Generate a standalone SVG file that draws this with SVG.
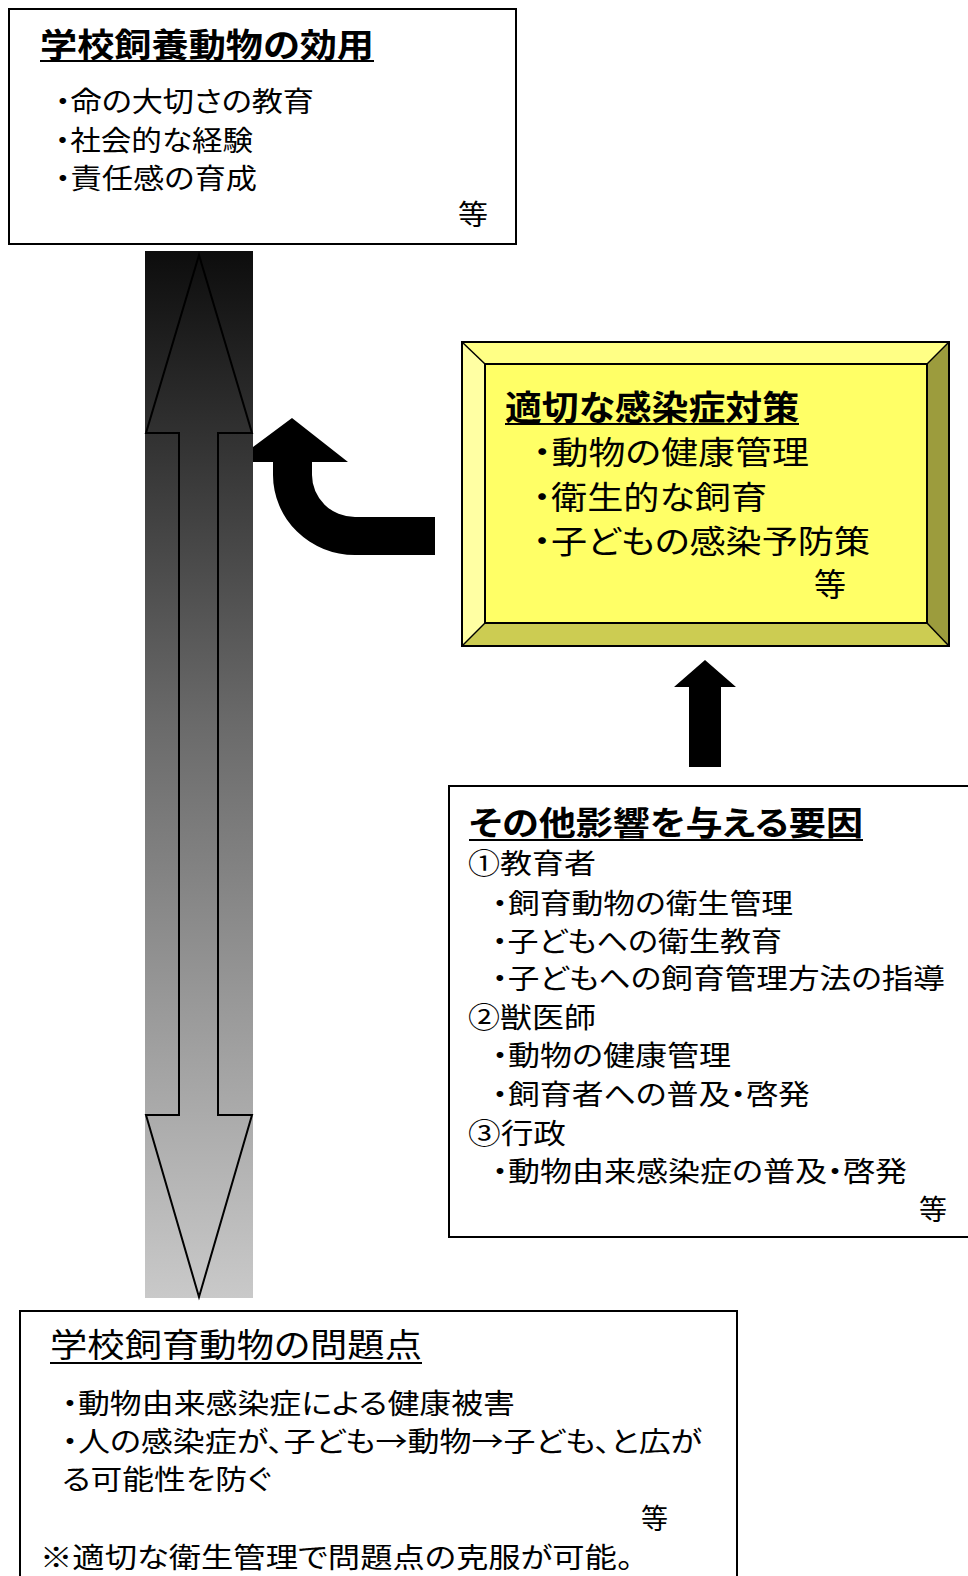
<svg xmlns="http://www.w3.org/2000/svg" width="968" height="1576" viewBox="0 0 968 1576">
<style>
text{font-family:"Noto Sans CJK JP","Noto Sans CJK SC",sans-serif;fill:#000;font-feature-settings:"palt";}
.t{font-size:33px;font-weight:bold;}
.tn{font-size:33px;}
.b{font-size:28px;}
.y{font-size:32px;}
.box{fill:#fff;stroke:#000;stroke-width:2;}
.ul{stroke:#000;stroke-width:2;}
</style>
<defs>
<linearGradient id="g" x1="0" y1="0" x2="0" y2="1">
<stop offset="0" stop-color="#0d0d0d"/>
<stop offset="0.45" stop-color="#6a6a6a"/>
<stop offset="1" stop-color="#c9c9c9"/>
</linearGradient>
</defs>
<g id="connectors">
<path d="M233 462 L292 418 L348 462 L312 462 L312 475 A43 42 0 0 0 355 517 L435 517 L435 555 L355 555 A82 80 0 0 1 273 475 L273 462 Z" fill="#000"/>
<rect x="145" y="251" width="108" height="1047" fill="url(#g)"/>
<path d="M199 255 L252 433 L218 433 L218 1115 L252 1115 L199 1297 L146 1115 L179 1115 L179 433 L146 433 Z" fill="none" stroke="#000" stroke-width="2" stroke-linejoin="miter"/>
<path d="M705 660 L736 687 L721 687 L721 767 L689 767 L689 687 L674 687 Z" fill="#000"/>
</g>
<g id="node-top">
<rect class="box" x="9" y="9" width="507" height="235"/>
<text class="t" x="40" y="57" textLength="334" lengthAdjust="spacingAndGlyphs">学校飼養動物の効用</text>
<line class="ul" x1="40" y1="61" x2="374" y2="61"/>
<text class="b" x="55" y="112" textLength="259" lengthAdjust="spacingAndGlyphs">・命の大切さの教育</text>
<text class="b" x="55" y="151" textLength="198" lengthAdjust="spacingAndGlyphs">・社会的な経験</text>
<text class="b" x="55" y="189" textLength="202" lengthAdjust="spacingAndGlyphs">・責任感の育成</text>
<text class="b" x="458" y="225" textLength="30" lengthAdjust="spacingAndGlyphs">等</text>
</g>
<g id="node-yellow">
<rect x="462" y="342" width="487" height="304" fill="#ffff66" stroke="#000" stroke-width="2"/>
<polygon points="462,342 949,342 927,364 485,364" fill="#ffff85"/>
<polygon points="462,342 485,364 485,623 462,646" fill="#ffffa3"/>
<polygon points="949,342 949,646 927,623 927,364" fill="#9c9c3d"/>
<polygon points="462,646 485,623 927,623 949,646" fill="#cccc52"/>
<rect x="485" y="364" width="442" height="259" fill="#ffff66" stroke="#000" stroke-width="2"/>
<line x1="462" y1="342" x2="485" y2="364" stroke="#000" stroke-width="1.5"/>
<line x1="949" y1="342" x2="927" y2="364" stroke="#000" stroke-width="1.5"/>
<line x1="462" y1="646" x2="485" y2="623" stroke="#000" stroke-width="1.5"/>
<line x1="949" y1="646" x2="927" y2="623" stroke="#000" stroke-width="1.5"/>
<rect x="462" y="342" width="487" height="304" fill="none" stroke="#000" stroke-width="2"/>
<text x="505" y="420" textLength="294" lengthAdjust="spacingAndGlyphs" font-weight="bold" font-size="34">適切な感染症対策</text>
<line class="ul" x1="505" y1="424" x2="799" y2="424"/>
<text class="y" x="533" y="464" textLength="276" lengthAdjust="spacingAndGlyphs">・動物の健康管理</text>
<text class="y" x="533" y="509" textLength="234" lengthAdjust="spacingAndGlyphs">・衛生的な飼育</text>
<text class="y" x="533" y="553" textLength="337" lengthAdjust="spacingAndGlyphs">・子どもの感染予防策</text>
<text class="y" x="814" y="596" textLength="32" lengthAdjust="spacingAndGlyphs">等</text>
</g>
<g id="node-factors">
<rect class="box" x="449" y="786" width="540" height="451"/>
<text class="t" x="469" y="835" textLength="394" lengthAdjust="spacingAndGlyphs">その他影響を与える要因</text>
<line class="ul" x1="469" y1="840" x2="863" y2="840"/>
<text class="b" x="468" y="874" textLength="128" lengthAdjust="spacingAndGlyphs">①教育者</text>
<text class="b" x="492" y="914" textLength="301" lengthAdjust="spacingAndGlyphs">・飼育動物の衛生管理</text>
<text class="b" x="492" y="952" textLength="290" lengthAdjust="spacingAndGlyphs">・子どもへの衛生教育</text>
<text class="b" x="492" y="989" textLength="453" lengthAdjust="spacingAndGlyphs">・子どもへの飼育管理方法の指導</text>
<text class="b" x="468" y="1028" textLength="128" lengthAdjust="spacingAndGlyphs">②獣医師</text>
<text class="b" x="492" y="1066" textLength="239" lengthAdjust="spacingAndGlyphs">・動物の健康管理</text>
<text class="b" x="492" y="1105" textLength="318" lengthAdjust="spacingAndGlyphs">・飼育者への普及・啓発</text>
<text class="b" x="468" y="1144" textLength="98" lengthAdjust="spacingAndGlyphs">③行政</text>
<text class="b" x="492" y="1182" textLength="415" lengthAdjust="spacingAndGlyphs">・動物由来感染症の普及・啓発</text>
<text class="b" x="919" y="1220" textLength="28" lengthAdjust="spacingAndGlyphs">等</text>
</g>
<g id="node-problems">
<rect class="box" x="20" y="1311" width="717" height="290"/>
<text class="tn" x="50" y="1357" textLength="372" lengthAdjust="spacingAndGlyphs">学校飼育動物の問題点</text>
<line class="ul" x1="50" y1="1363" x2="422" y2="1363"/>
<text class="b" x="62" y="1414" textLength="453" lengthAdjust="spacingAndGlyphs">・動物由来感染症による健康被害</text>
<text class="b" x="62" y="1452" textLength="640" lengthAdjust="spacingAndGlyphs">・人の感染症が、子ども→動物→子ども、と広が</text>
<text class="b" x="62" y="1490" textLength="209" lengthAdjust="spacingAndGlyphs">る可能性を防ぐ</text>
<text class="b" x="641" y="1529" textLength="27" lengthAdjust="spacingAndGlyphs">等</text>
<text class="b" x="40" y="1568" textLength="593" lengthAdjust="spacingAndGlyphs">※適切な衛生管理で問題点の克服が可能。</text>
</g>
</svg>
